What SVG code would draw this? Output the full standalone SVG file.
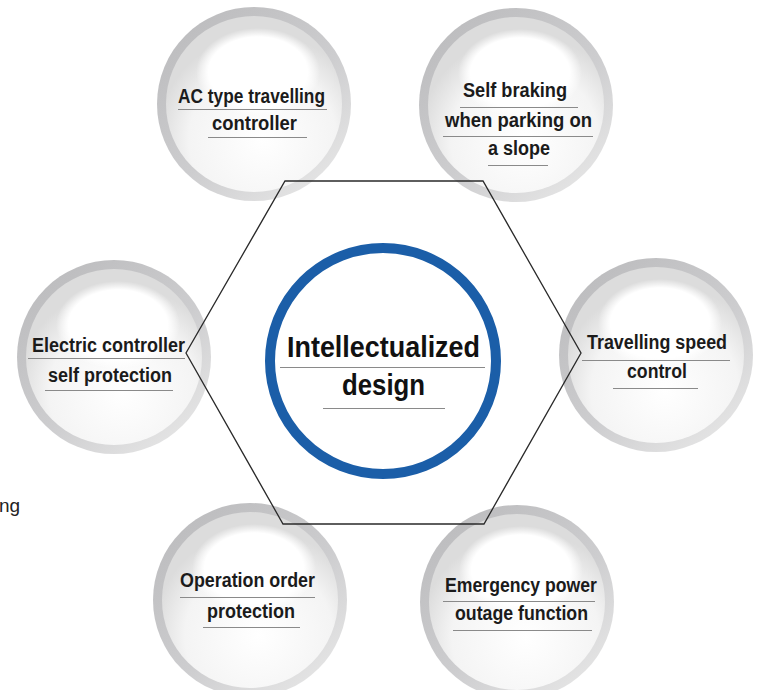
<svg xmlns="http://www.w3.org/2000/svg" xmlns:xlink="http://www.w3.org/1999/xlink" width="758" height="690" viewBox="0 0 758 690">
<style>
.t{font-family:"Liberation Sans","Arial",sans-serif;font-weight:bold;font-size:20px;fill:#1b1b1b;text-anchor:middle;}
.c{font-family:"Liberation Sans","Arial",sans-serif;font-weight:bold;font-size:30px;fill:#111;text-anchor:middle;}
.u{stroke:#8a8a8a;stroke-width:1.2;fill:none;}
.hex{fill:none;stroke:#2a2a2a;stroke-width:1.3;stroke-linejoin:miter;}
</style>
<defs>
<linearGradient id="ring" x1="0.15" y1="0.1" x2="0.85" y2="0.95">
<stop offset="0" stop-color="#bdbdbf"/>
<stop offset="0.55" stop-color="#cdcdcf"/>
<stop offset="1" stop-color="#e6e6e6"/>
</linearGradient>
<radialGradient id="disc" cx="0.55" cy="0.7" r="0.6">
<stop offset="0" stop-color="#ffffff"/>
<stop offset="0.7" stop-color="#f4f4f4"/>
<stop offset="1" stop-color="#dcdcdc"/>
</radialGradient>
<radialGradient id="hl" cx="0.5" cy="0.5" r="0.5">
<stop offset="0" stop-color="#ffffff" stop-opacity="1"/>
<stop offset="0.8" stop-color="#ffffff" stop-opacity="1"/>
<stop offset="1" stop-color="#ffffff" stop-opacity="0"/>
</radialGradient>
<g id="bubble">
<circle cx="0" cy="0" r="97" fill="url(#ring)"/>
<circle cx="0" cy="0" r="88" fill="url(#disc)"/>
<ellipse cx="4" cy="-32" rx="62" ry="44" fill="url(#hl)"/>
</g>
</defs>
<rect width="758" height="690" fill="#ffffff"/>

<g id="node-ac">
<use xlink:href="#bubble" href="#bubble" x="254" y="104"/>
<text class="t" x="251.5" y="103" textLength="147" lengthAdjust="spacingAndGlyphs">AC type travelling</text>
<line class="u" x1="178" y1="109.5" x2="327" y2="109.5"/>
<text class="t" x="254.5" y="130" textLength="85" lengthAdjust="spacingAndGlyphs">controller</text>
<line class="u" x1="208" y1="137.5" x2="307" y2="137.5"/>
</g>

<g id="node-braking">
<use xlink:href="#bubble" href="#bubble" x="516" y="105"/>
<text class="t" x="515" y="97" textLength="104" lengthAdjust="spacingAndGlyphs">Self braking</text>
<line class="u" x1="460" y1="107.5" x2="578" y2="107.5"/>
<text class="t" x="518.5" y="127" textLength="147" lengthAdjust="spacingAndGlyphs">when parking on</text>
<line class="u" x1="443" y1="136.5" x2="593" y2="136.5"/>
<text class="t" x="519" y="155" textLength="62" lengthAdjust="spacingAndGlyphs">a slope</text>
<line class="u" x1="488" y1="165.5" x2="548" y2="165.5"/>
</g>

<g id="node-electric">
<use xlink:href="#bubble" href="#bubble" x="114" y="357"/>
<text class="t" x="108.5" y="352" textLength="153" lengthAdjust="spacingAndGlyphs">Electric controller</text>
<line class="u" x1="28" y1="358.5" x2="185" y2="358.5"/>
<text class="t" x="110" y="382" textLength="124" lengthAdjust="spacingAndGlyphs">self protection</text>
<line class="u" x1="45" y1="390.5" x2="173" y2="390.5"/>
</g>

<g id="node-speed">
<use xlink:href="#bubble" href="#bubble" x="656" y="355"/>
<text class="t" x="657" y="349" textLength="140" lengthAdjust="spacingAndGlyphs">Travelling speed</text>
<line class="u" x1="582" y1="360.5" x2="730" y2="360.5"/>
<text class="t" x="657" y="378" textLength="60" lengthAdjust="spacingAndGlyphs">control</text>
<line class="u" x1="613" y1="388.5" x2="698" y2="388.5"/>
</g>

<g id="node-operation">
<use xlink:href="#bubble" href="#bubble" x="250" y="600"/>
<text class="t" x="247.5" y="587" textLength="135" lengthAdjust="spacingAndGlyphs">Operation order</text>
<line class="u" x1="180" y1="597.5" x2="315" y2="597.5"/>
<text class="t" x="251" y="618" textLength="88" lengthAdjust="spacingAndGlyphs">protection</text>
<line class="u" x1="203" y1="627.5" x2="300" y2="627.5"/>
</g>

<g id="node-emergency">
<use xlink:href="#bubble" href="#bubble" x="517" y="602"/>
<text class="t" x="521" y="592" textLength="152" lengthAdjust="spacingAndGlyphs">Emergency power</text>
<line class="u" x1="443" y1="601.5" x2="595" y2="601.5"/>
<text class="t" x="521.5" y="620" textLength="133" lengthAdjust="spacingAndGlyphs">outage function</text>
<line class="u" x1="453" y1="630.5" x2="592" y2="630.5"/>
</g>

<g id="connectors">
<polygon class="hex" points="285,181 483,181 581,353 484,524 283,524 186,353"/>
</g>

<g id="node-center">
<circle cx="383" cy="361" r="113" fill="#ffffff" stroke="#1b5ea8" stroke-width="10"/>
<text class="c" x="383.5" y="357" textLength="193" lengthAdjust="spacingAndGlyphs">Intellectualized</text>
<line class="u" x1="280" y1="367.5" x2="485" y2="367.5"/>
<text class="c" x="383.5" y="395" textLength="83" lengthAdjust="spacingAndGlyphs">design</text>
<line class="u" x1="323" y1="408.5" x2="445" y2="408.5"/>
</g>

<text x="-1" y="512" font-family="Liberation Sans, Arial, sans-serif" font-size="19" fill="#222">ng</text>
</svg>
